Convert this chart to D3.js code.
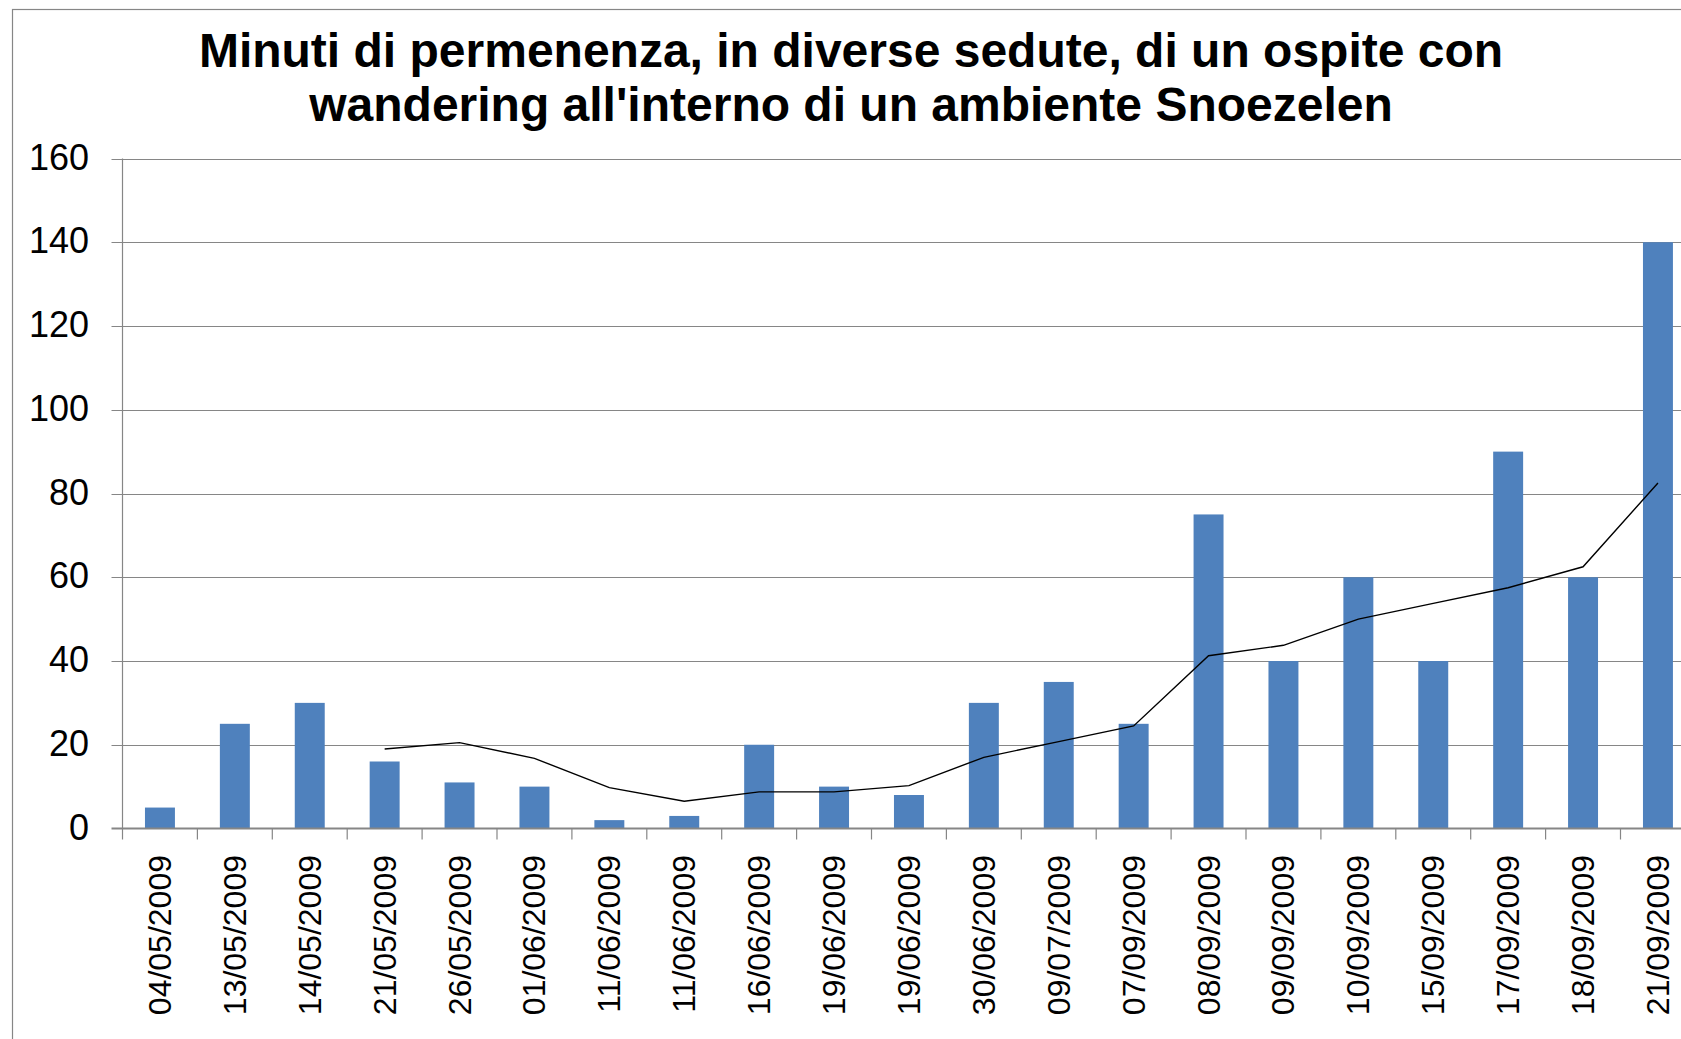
<!DOCTYPE html>
<html>
<head>
<meta charset="utf-8">
<title>Minuti di permanenza</title>
<style>
    body { margin: 0; background: #fff; }
    .grid { stroke: #868686; stroke-width: 1px; }
    .bar { fill: #4f81bd; }
    .trend { fill: none; stroke: #000; stroke-width: 1.4px; }
    .ylab { font-family: "Liberation Sans", Arial, sans-serif; font-size: 36px; fill: #000; }
    .xlab { font-family: "Liberation Sans", Arial, sans-serif; font-size: 32px; fill: #000; }
    .title { font-family: "Liberation Sans", Arial, sans-serif; font-size: 48px; font-weight: bold; fill: #000; }
</style>
</head>
<body>
<svg id="chart" width="1681" height="1039"></svg>
<script src="https://cdn.jsdelivr.net/npm/d3@7"></script>
<script>
    // sessions (dates as printed on the axis)
    const dates = ["04/05/2009", "13/05/2009", "14/05/2009", "21/05/2009", "26/05/2009",
        "01/06/2009", "11/06/2009", "11/06/2009", "16/06/2009", "19/06/2009", "19/06/2009",
        "30/06/2009", "09/07/2009", "07/09/2009", "08/09/2009", "09/09/2009", "10/09/2009",
        "15/09/2009", "17/09/2009", "18/09/2009", "21/09/2009"]

    // minutes spent in the room
    const minutes = [5, 25, 30, 16, 11, 10, 2, 3, 20, 10, 8, 30, 35, 25, 75, 40, 60, 40, 90, 60, 140]

    // trend line (moving average), starts at the 4th session
    const trend = [null, null, null, 19, 20.5, 16.75, 9.75, 6.5, 8.75, 8.75, 10.25,
        17, 20.75, 24.5, 41.25, 43.75, 50, 53.75, 57.5, 62.5, 82.5]

    const yTicks = [0, 20, 40, 60, 80, 100, 120, 140, 160]

    const titleLines = ["Minuti di permenenza, in diverse sedute, di un ospite con",
        "wandering all'interno di un ambiente Snoezelen"]

    let svg = d3.select("#chart")

    let plotLeft = 122.5
    let bandW = 74.9
    let plotTop = 158.5
    let plotBottom = 828.5

    // chart frame (runs off the right and bottom of the picture)
    svg.append("rect")
        .attr("x", 12.5).attr("y", 9.5)
        .attr("width", 1800).attr("height", 1200)
        .attr("fill", "#fff")
        .attr("stroke", "#868686").attr("stroke-width", 1.2)

    let xScale = d3.scaleBand()
        .domain(d3.range(dates.length))
        .range([plotLeft, plotLeft + bandW * dates.length])

    let yScale = d3.scaleLinear()
        .domain([0, 160])
        .range([plotBottom, plotTop])

    // title
    svg.selectAll(".title")
        .data(titleLines)
        .enter().append("text")
        .attr("class", "title")
        .attr("x", 851)
        .attr("y", (d, i) => 67 + i * 54)
        .attr("text-anchor", "middle")
        .text(d => d)

    // horizontal gridlines
    svg.selectAll(".grid")
        .data(yTicks.filter(d => d > 0))
        .enter().append("line")
        .attr("class", "grid")
        .attr("x1", plotLeft - 11).attr("x2", 1700)
        .attr("y1", d => Math.round(yScale(d)) + 0.5)
        .attr("y2", d => Math.round(yScale(d)) + 0.5)

    // y labels
    svg.selectAll(".ylab")
        .data(yTicks)
        .enter().append("text")
        .attr("class", "ylab")
        .attr("x", 89)
        .attr("y", d => yScale(d) + 11)
        .attr("text-anchor", "end")
        .text(d => d)

    // y axis line
    svg.append("line")
        .attr("x1", plotLeft).attr("x2", plotLeft)
        .attr("y1", plotTop).attr("y2", plotBottom)
        .attr("stroke", "#868686").attr("stroke-width", 1.2)

    // bars
    let barW = bandW * 0.4
    svg.selectAll(".bar")
        .data(minutes)
        .enter().append("rect")
        .attr("class", "bar")
        .attr("x", (d, i) => xScale(i) + (bandW - barW) / 2)
        .attr("y", d => yScale(d))
        .attr("width", barW)
        .attr("height", d => yScale(0) - yScale(d))

    // x axis with ticks between categories
    let xAxis = svg.append("g")
    xAxis.append("line")
        .attr("x1", plotLeft - 11).attr("x2", 1700)
        .attr("y1", plotBottom).attr("y2", plotBottom)
        .attr("stroke", "#868686").attr("stroke-width", 2)
    xAxis.selectAll(".xtick")
        .data(d3.range(dates.length + 1))
        .enter().append("line")
        .attr("x1", i => plotLeft + i * bandW).attr("x2", i => plotLeft + i * bandW)
        .attr("y1", plotBottom).attr("y2", plotBottom + 11)
        .attr("stroke", "#868686").attr("stroke-width", 1.2)

    // trend line
    let line = d3.line()
        .defined(d => d != null)
        .x((d, i) => xScale(i) + bandW / 2)
        .y(d => yScale(d))

    svg.append("path")
        .datum(trend)
        .attr("class", "trend")
        .attr("d", line)

    // rotated date labels
    svg.selectAll(".xlab")
        .data(dates)
        .enter().append("text")
        .attr("class", "xlab")
        .attr("transform", (d, i) => `translate(${xScale(i) + bandW / 2 + 11}, 855) rotate(-90)`)
        .attr("text-anchor", "end")
        .text(d => d)
</script>
</body>
</html>
